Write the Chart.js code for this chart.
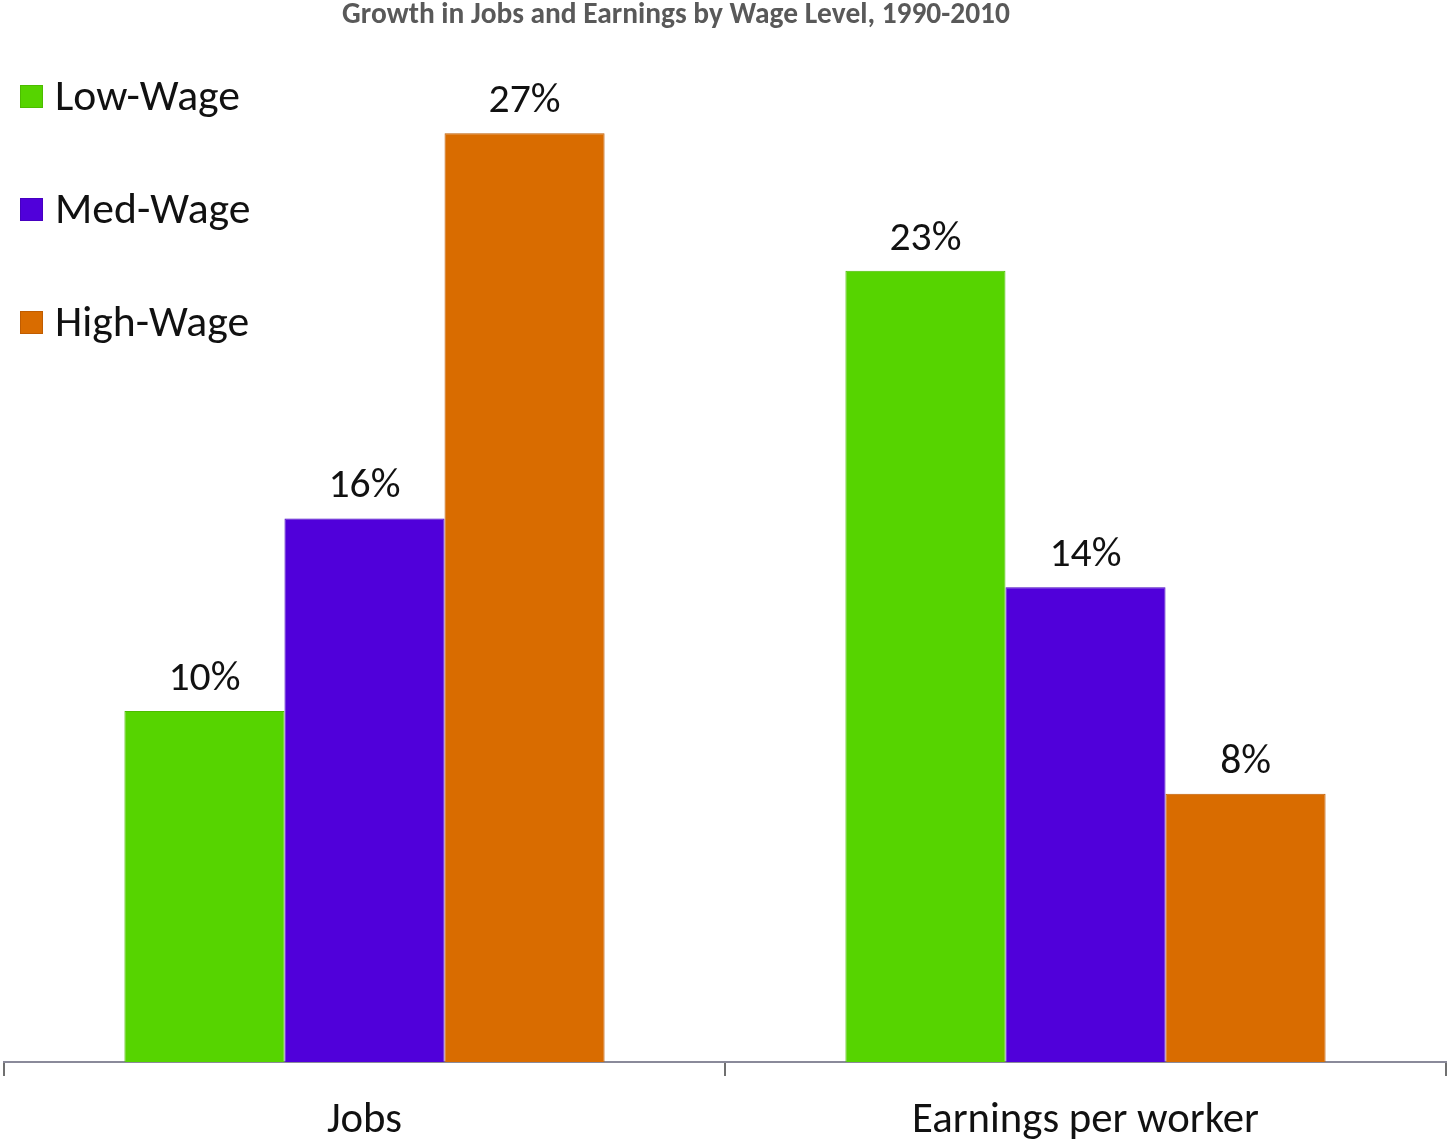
<!DOCTYPE html>
<html>
<head>
<meta charset="utf-8">
<script src="https://cdn.jsdelivr.net/npm/chart.js@4"></script>
<style>
  html, body { margin: 0; padding: 0; background: #fff; }
  #wrap { position: relative; width: 1447px; height: 1141px; }
</style>
</head>
<body>
<div id="wrap"><canvas id="c" width="1447" height="1141"></canvas></div>
<script>
const title = 'Growth in Jobs and Earnings by Wage Level, 1990-2010';
const categories = ['Jobs', 'Earnings per worker'];
const seriesNames = ['Low-Wage', 'Med-Wage', 'High-Wage'];
const lowWage = [10.2, 23.0];
const medWage = [15.8, 13.8];
const highWage = [27.0, 7.8];

const FAMILY = 'Carlito, Lato, "Open Sans", sans-serif';
const mctx = document.createElement('canvas').getContext('2d');
function fit(text, weight, width) {
  mctx.font = weight + ' 100px ' + FAMILY;
  return 100 * width / mctx.measureText(text).width;
}
const titleSize = fit(title, 'bold', 668);
const legendSize = fit('Low-Wage', 'normal', 185);
const axisSize = fit('Earnings per worker', 'normal', 347);
const valueSize = fit('27%', 'normal', 72);

const fills = ['#56d400', '#5000da', '#d96c00'];
const borders = ['#4cbc00', '#4600c0', '#c05c00'];

const overlay = {
  id: 'overlay',
  afterDraw(chart) {
    const ctx = chart.ctx;
    ctx.save();
    // title
    ctx.fillStyle = '#595959';
    ctx.font = 'bold ' + titleSize + 'px ' + FAMILY;
    ctx.textAlign = 'center';
    ctx.textBaseline = 'alphabetic';
    ctx.fillText(title, 676, 23);
    // legend
    chart.data.datasets.forEach((ds, i) => {
      const top = 85 + i * 113;
      ctx.fillStyle = ds.backgroundColor;
      ctx.fillRect(20, top, 23, 23);
      ctx.strokeStyle = ds.borderColor;
      ctx.lineWidth = 1;
      ctx.strokeRect(20.5, top + 0.5, 22, 22);
      ctx.fillStyle = '#111';
      ctx.font = legendSize + 'px ' + FAMILY;
      ctx.textAlign = 'left';
      ctx.textBaseline = 'alphabetic';
      ctx.fillText(ds.label, 55, 110 + i * 113);
    });
    // value labels
    ctx.font = valueSize + 'px ' + FAMILY;
    ctx.textAlign = 'center';
    ctx.textBaseline = 'alphabetic';
    ctx.fillStyle = '#111';
    chart.data.datasets.forEach((ds, i) => {
      chart.getDatasetMeta(i).data.forEach((bar, j) => {
        ctx.fillText(Math.round(ds.data[j]) + '%', bar.x, bar.y - 21);
      });
    });
    ctx.restore();
  }
};

new Chart(document.getElementById('c'), {
  type: 'bar',
  data: {
    labels: categories,
    datasets: [lowWage, medWage, highWage].map((d, i) => ({
      label: seriesNames[i],
      data: d,
      backgroundColor: fills[i],
      borderColor: borders[i],
      borderWidth: 1,
      categoryPercentage: 0.666,
      barPercentage: 1.0
    }))
  },
  options: {
    responsive: false,
    animation: false,
    layout: { padding: { left: 4, right: 1, top: 30, bottom: 0 } },
    plugins: { legend: { display: false }, title: { display: false }, tooltip: { enabled: false } },
    scales: {
      y: { display: false, min: 0, max: 30 },
      x: {
        afterFit(scale) { scale.height = 79; },
        border: { display: true, color: '#8a8a9a', width: 2 },
        grid: { display: true, offset: true, drawOnChartArea: false, drawTicks: true, tickLength: 14, color: '#707070', lineWidth: 2 },
        ticks: { color: '#111', padding: 20, font: { family: FAMILY, size: axisSize, lineHeight: 1.2 } }
      }
    }
  },
  plugins: [overlay]
});
</script>
</body>
</html>
